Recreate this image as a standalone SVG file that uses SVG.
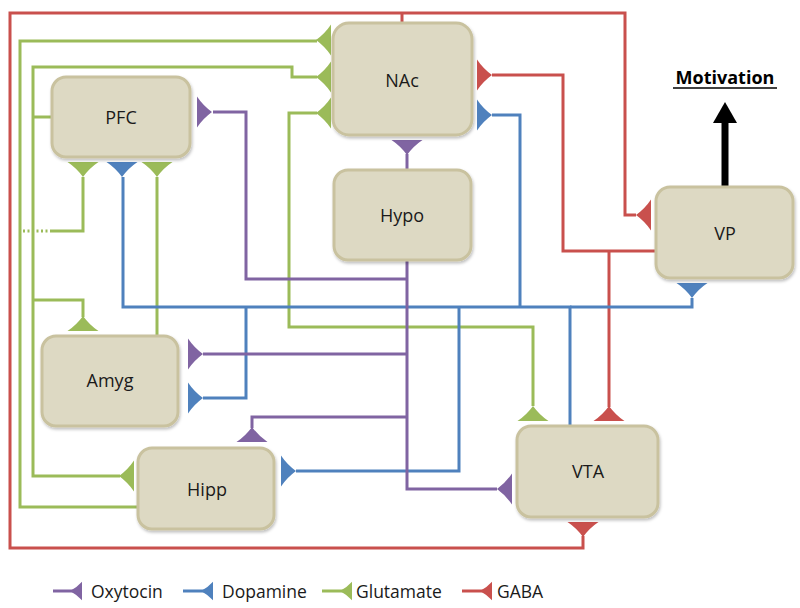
<svg xmlns="http://www.w3.org/2000/svg" xmlns:xlink="http://www.w3.org/1999/xlink" width="800" height="608" viewBox="0 0 800 608">
<style>
.node{fill:#ddd9c3;stroke:#c9c29f;stroke-width:3;filter:url(#sh)}
.lbl{font-family:"Open Sans","Liberation Sans",sans-serif;font-size:18px;fill:#1a1a1a;text-anchor:middle}
.leg{font-family:"Open Sans","Liberation Sans",sans-serif;font-size:17.5px;fill:#1a1a1a}
.w{fill:none;stroke-width:3;stroke-linejoin:miter}
.r{stroke:#c9504d}.g{stroke:#9bbb59}.b{stroke:#4f81bd}.p{stroke:#8064a2}
.fr{fill:#c9504d}.fg{fill:#9bbb59}.fb{fill:#4f81bd}.fp{fill:#8064a2}
</style>
<defs>
<filter id="sh" x="-10%" y="-10%" width="120%" height="130%">
<feDropShadow dx="1" dy="2" stdDeviation="1.5" flood-color="#000" flood-opacity="0.25"/>
</filter>
<path id="syn" d="M-15.5,0 L15.5,0 Q6.5,-6 0,-15 Q-6.5,-6 -15.5,0 Z"/>
</defs>
<rect width="800" height="608" fill="#fff"/>

<g id="connectors">
<!-- GABA -->
<path class="w r" d="M636,215 H625 V13 H10 V548 H583 V536"/>
<path class="w r" d="M402,13 V24"/>
<path class="w r" d="M492,75 H563 V251 H657"/>
<path class="w r" d="M609,251 V407"/>
<!-- Glutamate -->
<path class="w g" d="M317,41 H20 V507 H139"/>
<path class="w g" d="M317,77 H292 V67 H33 V476 H120"/>
<path class="w g" d="M33,117 H53"/>
<path class="w g" d="M33,300 H83 V317"/>
<path class="w g" d="M317,113 H289 V327 H533 V406"/>
<path class="w g" d="M157,177 V336"/>
<path class="w g" d="M83,177 V231 H52"/>
<path class="w g" d="M52,231 H21" stroke-dasharray="2,2.5"/>
<!-- Dopamine -->
<path class="w b" d="M570,426 V307 H123 V177"/>
<path class="w b" d="M570,307 H692 V298"/>
<path class="w b" d="M492,115 H520 V307"/>
<path class="w b" d="M459,307 V471 H296"/>
<path class="w b" d="M246,307 V398 H203"/>
<!-- Oxytocin -->
<path class="w p" d="M407,260 V489 H497"/>
<path class="w p" d="M407,279 H246 V112 H213"/>
<path class="w p" d="M407,354 H203"/>
<path class="w p" d="M407,417 H252 V428"/>
<path class="w p" d="M407,154 V171"/>
<!-- synapse heads -->
<use xlink:href="#syn" class="fp" transform="translate(197,112) rotate(90)"/>
<use xlink:href="#syn" class="fg" transform="translate(83,162) rotate(180)"/>
<use xlink:href="#syn" class="fb" transform="translate(122,162) rotate(180)"/>
<use xlink:href="#syn" class="fg" transform="translate(157,162) rotate(180)"/>
<use xlink:href="#syn" class="fg" transform="translate(331,40) rotate(-90)"/>
<use xlink:href="#syn" class="fg" transform="translate(331,77) rotate(-90)"/>
<use xlink:href="#syn" class="fg" transform="translate(331,113) rotate(-90)"/>
<use xlink:href="#syn" class="fr" transform="translate(477,75) rotate(90)"/>
<use xlink:href="#syn" class="fb" transform="translate(477,115) rotate(90)"/>
<use xlink:href="#syn" class="fp" transform="translate(407,140) rotate(180)"/>
<use xlink:href="#syn" class="fr" transform="translate(651,215) rotate(-90)"/>
<use xlink:href="#syn" class="fb" transform="translate(692,283) rotate(180)"/>
<use xlink:href="#syn" class="fg" transform="translate(83,331)"/>
<use xlink:href="#syn" class="fp" transform="translate(188,354) rotate(90)"/>
<use xlink:href="#syn" class="fb" transform="translate(188,398) rotate(90)"/>
<use xlink:href="#syn" class="fp" transform="translate(252,442)"/>
<use xlink:href="#syn" class="fg" transform="translate(134,476) rotate(-90)"/>
<use xlink:href="#syn" class="fb" transform="translate(281,471) rotate(90)"/>
<use xlink:href="#syn" class="fg" transform="translate(533,421)"/>
<use xlink:href="#syn" class="fr" transform="translate(609,421)"/>
<use xlink:href="#syn" class="fp" transform="translate(512,489) rotate(-90)"/>
<use xlink:href="#syn" class="fr" transform="translate(583,522) rotate(180)"/>
<!-- output arrow -->
<path d="M725,187 V120" stroke="#000" stroke-width="7" fill="none"/>
<polygon points="713,123 737,123 725,102" fill="#000"/>
</g>

<g id="PFC"><rect class="node" x="52" y="77" width="138" height="80" rx="14"/><text class="lbl" x="121" y="124">PFC</text></g>
<g id="NAc"><rect class="node" x="333" y="23" width="139" height="112" rx="16"/><text class="lbl" x="402" y="87">NAc</text></g>
<g id="Hypo"><rect class="node" x="334" y="170" width="137" height="90" rx="14"/><text class="lbl" x="402" y="222">Hypo</text></g>
<g id="VP"><rect class="node" x="656" y="187" width="137" height="91" rx="14"/><text class="lbl" x="725" y="240">VP</text></g>
<g id="Amyg"><rect class="node" x="42" y="336" width="136" height="90" rx="14"/><text class="lbl" x="110" y="387">Amyg</text></g>
<g id="Hipp"><rect class="node" x="138" y="448" width="136" height="81" rx="14"/><text class="lbl" x="207" y="496">Hipp</text></g>
<g id="VTA"><rect class="node" x="517" y="426" width="141" height="91" rx="14"/><text class="lbl" x="588" y="478">VTA</text></g>

<g id="Motivation">
<text x="725" y="84" style="font-family:'Open Sans','Liberation Sans',sans-serif;font-size:18px;font-weight:bold;fill:#000;text-anchor:middle">Motivation</text>
<line x1="673" y1="88" x2="777" y2="88" stroke="#000" stroke-width="1.5"/>
</g>

<g id="legend">
<path class="w p" d="M53,591 H80"/><use xlink:href="#syn" class="fp" transform="translate(82,591) rotate(-90) scale(0.6,0.8)"/>
<text class="leg" x="91" y="598">Oxytocin</text>
<path class="w b" d="M183,591 H211"/><use xlink:href="#syn" class="fb" transform="translate(213,591) rotate(-90) scale(0.6,0.8)"/>
<text class="leg" x="222" y="598">Dopamine</text>
<path class="w g" d="M322,591 H350"/><use xlink:href="#syn" class="fg" transform="translate(352,591) rotate(-90) scale(0.6,0.8)"/>
<text class="leg" x="356" y="598">Glutamate</text>
<path class="w r" d="M462,591 H490"/><use xlink:href="#syn" class="fr" transform="translate(492,591) rotate(-90) scale(0.6,0.8)"/>
<text class="leg" x="497" y="598">GABA</text>
</g>
</svg>
